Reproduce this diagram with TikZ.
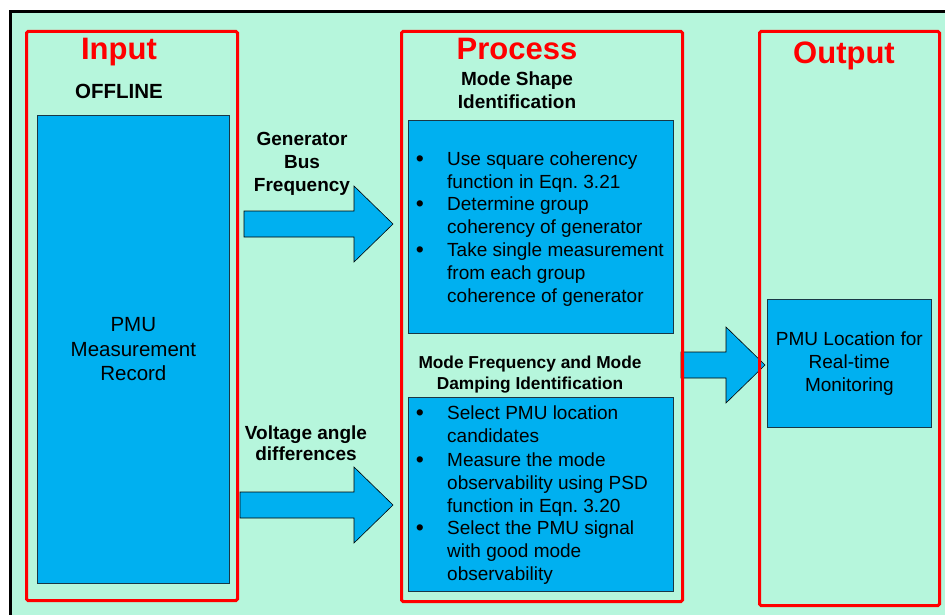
\documentclass[tikz,border=0pt]{standalone}
\usepackage{fontspec}
\setmainfont{Liberation Sans}
\usetikzlibrary{calc}
\frenchspacing

\definecolor{mint}{RGB}{182,246,220}
\definecolor{boxblue}{RGB}{0,176,240}
\definecolor{boxedge}{RGB}{25,55,70}
\definecolor{framered}{RGB}{255,0,0}

% font size / line spacing shortcut
\newcommand\fs[2]{\fontsize{#1}{#2}\selectfont}
% top-aligned text blocks (baseline = first line)
\newcommand\ctext[2]{\parbox[t]{#1}{\centering #2}}
\newcommand\ltext[2]{\parbox[t]{#1}{\raggedright #2}}

% wide block arrow from a tail point to a tip point (horizontal)
\newcommand\blockarrow[2]{%
  \draw[blockarrowstyle] let \p1=(#1), \p2=(#2) in
    (\x1,\y2+13pt) -- (\x2-39pt,\y2+13pt) -- (\x2-39pt,\y2+38pt) -- (\x2,\y2)
    -- (\x2-39pt,\y2-38pt) -- (\x2-39pt,\y2-13pt) -- (\x1,\y2-13pt) -- cycle;}

\begin{document}
\begin{tikzpicture}[x=1pt,y=-1pt,
  redframe/.style={draw=framered, line width=3pt, rounded corners=1.5pt,
    anchor=north west, inner sep=0pt},
  bluebox/.style={draw=boxedge, fill=boxblue, line width=0.7pt,
    anchor=north west, inner sep=0pt, align=center},
  blockarrowstyle/.style={draw=black, fill=boxblue, line width=0.6pt},
  lbl/.style={anchor=base, inner sep=0pt, text=black},
  titletext/.style={lbl, text=framered, font=\bfseries\fs{31}{36}},
  headtext/.style={lbl, font=\bfseries\fs{19}{23}},
  itemtext/.style={lbl, font=\fs{19}{23}},
  bulletmark/.style={lbl, font=\fs{23}{23}},
]
\clip (0,0) rectangle (945,615);
\useasboundingbox (0,0) rectangle (945,615);

% page and outer frame
\fill[white] (0,0) rectangle (945,615);
\fill[mint] (10,12) rectangle (960,630);
\draw[line width=3pt] (10,630) -- (10,12) -- (960,12);

% block arrows
\coordinate (a1tail) at (244,224);
\coordinate (a1tip)  at (393,224);
\coordinate (a2tail) at (240,505);
\coordinate (a2tip)  at (393,505);
\coordinate (a3tail) at (681,365);
\coordinate (a3tip)  at (765,365);
\blockarrow{a1tail}{a1tip}
\blockarrow{a2tail}{a2tip}
\blockarrow{a3tail}{a3tip}

% stage frames
\node[redframe, minimum width=211pt, minimum height=569pt] (inframe)  at (25,30) {};
\node[redframe, minimum width=281pt, minimum height=570pt] (procframe) at (400,30) {};
\node[redframe, minimum width=180pt, minimum height=574pt] (outframe) at (758,30) {};

% stage titles
\node[titletext] (intitle)   at (119,59.5) {Input};
\node[titletext] (proctitle) at (517,59.5) {Process};
\node[titletext] (outtitle)  at (844,64) {Output};

% input stage
\node[lbl, font=\bfseries\fs{20.5}{24}] (offline) at (119,99) {OFFLINE};
\node[bluebox, minimum width=192pt, minimum height=468pt, font=\fs{20.5}{24.5}]
  (pmurec) at (37,115) {PMU\\Measurement\\Record};

% arrow labels
\node[headtext] (genlbl) at (302,146) {\ctext{120pt}{Generator\\Bus\\Frequency}};
\node[headtext, font=\bfseries\fs{19}{21}] (vallbl) at (306,439) {\ctext{140pt}{Voltage angle\\differences}};

% process stage: mode shape
\node[headtext] (shapehead) at (517,86) {\ctext{260pt}{Mode Shape\\Identification}};
\node[bluebox, minimum width=265pt, minimum height=213pt] (shapebox) at (408,120) {};
\node[bulletmark] (ub1) at (420,166) {\textbullet};
\node[itemtext, anchor=base west] (ut1) at (447,165) {\ltext{225pt}{Use square coherency\\function in Eqn. 3.21}};
\node[bulletmark] (ub2) at (420,211) {\textbullet};
\node[itemtext, anchor=base west] (ut2) at (447,210) {\ltext{225pt}{Determine group\\coherency of generator}};
\node[bulletmark] (ub3) at (420,257) {\textbullet};
\node[itemtext, anchor=base west] (ut3) at (447,256) {\ltext{225pt}{Take single measurement\\from each group\\coherence of generator}};

% process stage: mode frequency and damping
\node[headtext, font=\bfseries\fs{17.3}{21}] (freqhead) at (530,368) {\ctext{260pt}{Mode Frequency and Mode\\Damping Identification}};
\node[bluebox, minimum width=265pt, minimum height=194pt] (freqbox) at (408,397) {};
\node[bulletmark] (lb1) at (420,420) {\textbullet};
\node[itemtext, anchor=base west] (lt1) at (447,419) {\ltext{225pt}{Select PMU location\\candidates}};
\node[bulletmark] (lb2) at (420,467) {\textbullet};
\node[itemtext, anchor=base west] (lt2) at (447,466) {\ltext{225pt}{Measure the mode\\observability using PSD\\function in Eqn. 3.20}};
\node[bulletmark] (lb3) at (420,535) {\textbullet};
\node[itemtext, anchor=base west] (lt3) at (447,534) {\ltext{225pt}{Select the PMU signal\\with good mode\\observability}};

% output stage
\node[bluebox, minimum width=164pt, minimum height=128pt, font=\fs{19}{23}]
  (locbox) at (767,299) {PMU Location for\\Real-time\\Monitoring};
\end{tikzpicture}
\end{document}
